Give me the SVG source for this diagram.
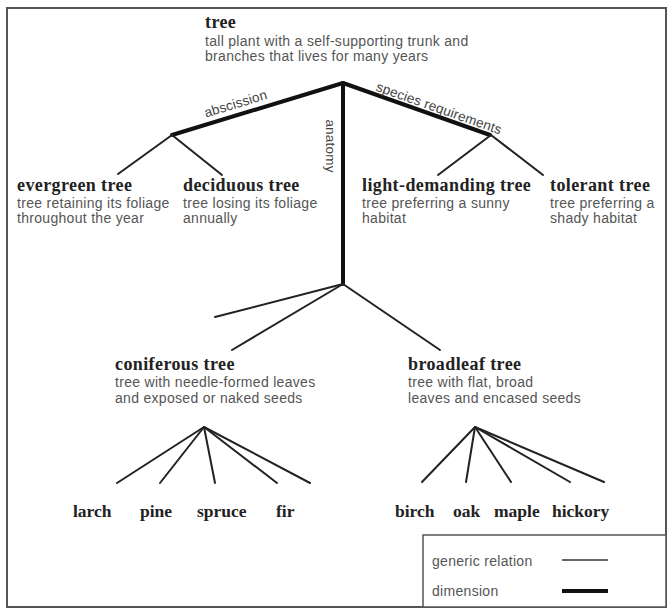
<svg xmlns="http://www.w3.org/2000/svg" width="671" height="611" viewBox="0 0 671 611">
<style>
.t{font-family:"Liberation Serif",serif;font-weight:bold;font-size:18px;letter-spacing:0.4px;fill:#222}
.leaf{font-family:"Liberation Serif",serif;font-weight:bold;font-size:17.5px;fill:#222}
.d{font-family:"Liberation Sans",Arial,sans-serif;font-size:14px;letter-spacing:0.3px;fill:#555}
.lbl{font-family:"Liberation Sans",Arial,sans-serif;font-size:13.5px;letter-spacing:0.2px;fill:#444}
.g{stroke:#222;stroke-width:2;fill:none;stroke-linecap:round}
.dim{stroke:#111;stroke-width:4;fill:none;stroke-linecap:round;stroke-linejoin:round}
</style>
<rect x="0" y="0" width="671" height="611" fill="#fff"/>
<rect x="7" y="8" width="659" height="599" fill="none" stroke="#555" stroke-width="2"/>
<g id="connectors">
<polyline class="dim" points="172,135 343,83 490,135"/>
<line class="dim" x1="343" y1="83" x2="343" y2="284"/>
<line class="g" x1="172" y1="135" x2="118" y2="174"/>
<line class="g" x1="172" y1="135" x2="222" y2="175"/>
<line class="g" x1="491" y1="135" x2="438" y2="175"/>
<line class="g" x1="491" y1="135" x2="543" y2="175"/>
<line class="g" x1="343" y1="284" x2="215" y2="317"/>
<line class="g" x1="343" y1="284" x2="232" y2="350"/>
<line class="g" x1="343" y1="284" x2="440" y2="350"/>
<line class="g" x1="204" y1="427" x2="117" y2="483"/>
<line class="g" x1="204" y1="427" x2="160" y2="483"/>
<line class="g" x1="204" y1="427" x2="215" y2="483"/>
<line class="g" x1="204" y1="427" x2="277" y2="483"/>
<line class="g" x1="204" y1="427" x2="310" y2="483"/>
<line class="g" x1="475" y1="427" x2="422" y2="482"/>
<line class="g" x1="475" y1="427" x2="466" y2="482"/>
<line class="g" x1="475" y1="427" x2="511" y2="482"/>
<line class="g" x1="475" y1="427" x2="570" y2="482"/>
<line class="g" x1="475" y1="427" x2="604" y2="482"/>
<text class="lbl" transform="translate(237,108) rotate(-17)" text-anchor="middle">abscission</text>
<text class="lbl" transform="translate(437.5,112.5) rotate(19.5)" text-anchor="middle">species requirements</text>
<text class="lbl" transform="translate(326,146) rotate(90)" text-anchor="middle">anatomy</text>
</g>
<g id="tree">
<text class="t" x="205" y="28">tree</text>
<text class="d" x="205" y="46">tall plant with a self-supporting trunk and</text>
<text class="d" x="205" y="61">branches that lives for many years</text>
</g>
<g id="evergreen">
<text class="t" x="17" y="191">evergreen tree</text>
<text class="d" x="17" y="208">tree retaining its foliage</text>
<text class="d" x="17" y="223">throughout the year</text>
</g>
<g id="deciduous">
<text class="t" x="183" y="191">deciduous tree</text>
<text class="d" x="183" y="208">tree losing its foliage</text>
<text class="d" x="183" y="223">annually</text>
</g>
<g id="light-demanding">
<text class="t" x="362" y="191">light-demanding tree</text>
<text class="d" x="362" y="208">tree preferring a sunny</text>
<text class="d" x="362" y="223">habitat</text>
</g>
<g id="tolerant">
<text class="t" x="550" y="191">tolerant tree</text>
<text class="d" x="550" y="208">tree preferring a</text>
<text class="d" x="550" y="223">shady habitat</text>
</g>
<g id="coniferous">
<text class="t" x="115" y="370">coniferous tree</text>
<text class="d" x="115" y="387">tree with needle-formed leaves</text>
<text class="d" x="115" y="403">and exposed or naked seeds</text>
</g>
<g id="broadleaf">
<text class="t" x="408" y="370">broadleaf tree</text>
<text class="d" x="408" y="387">tree with flat, broad</text>
<text class="d" x="408" y="403">leaves and encased seeds</text>
</g>
<g id="larch"><text class="leaf" x="73" y="517">larch</text></g>
<g id="pine"><text class="leaf" x="140" y="517">pine</text></g>
<g id="spruce"><text class="leaf" x="197" y="517">spruce</text></g>
<g id="fir"><text class="leaf" x="276" y="517">fir</text></g>
<g id="birch"><text class="leaf" x="395" y="517">birch</text></g>
<g id="oak"><text class="leaf" x="453" y="517">oak</text></g>
<g id="maple"><text class="leaf" x="494" y="517">maple</text></g>
<g id="hickory"><text class="leaf" x="552" y="517">hickory</text></g>
<g id="legend">
<rect x="423" y="535" width="243" height="72" fill="#fff" stroke="#555" stroke-width="1.5"/>
<text class="d" x="432" y="566">generic relation</text>
<line x1="562" y1="560" x2="608" y2="560" stroke="#333" stroke-width="1.5"/>
<text class="d" x="432" y="596">dimension</text>
<line x1="562" y1="591" x2="608" y2="591" stroke="#111" stroke-width="4"/>
</g>
</svg>
